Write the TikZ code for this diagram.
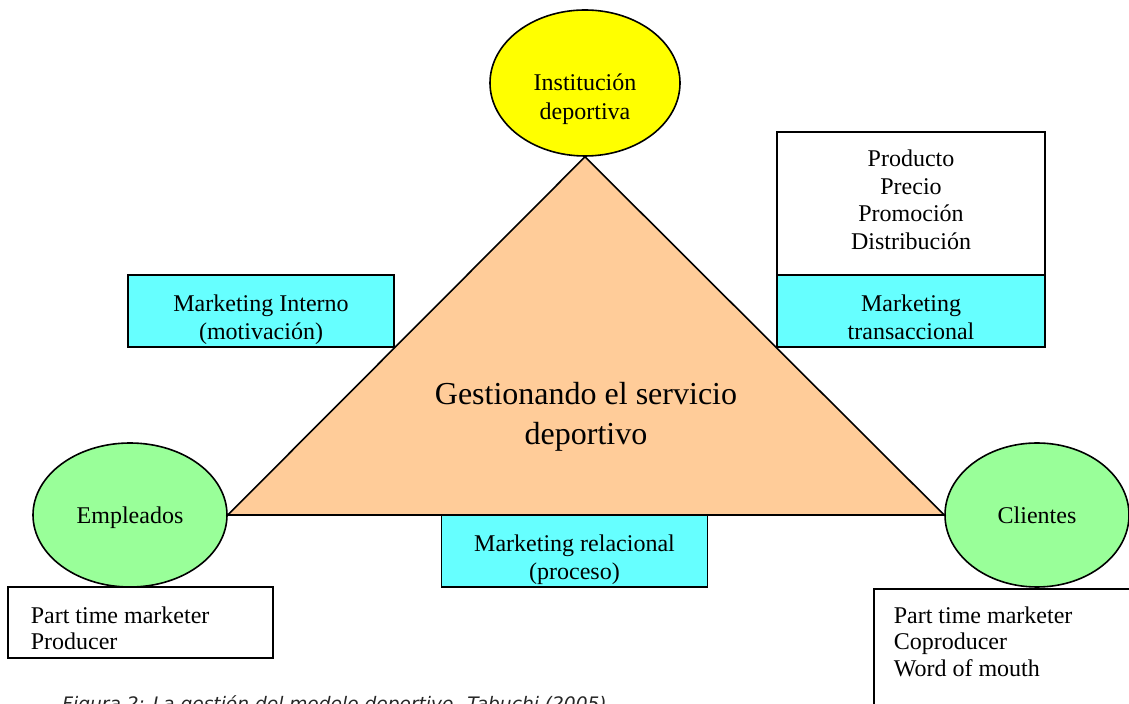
\documentclass[tikz,border=0pt]{standalone}
\usepackage{fontspec}
\setmainfont{Liberation Serif}
\newfontfamily\capfont{DejaVu Sans}
\usetikzlibrary{shapes.geometric}
\definecolor{instyellow}{HTML}{FFFF00}
\definecolor{actorgreen}{HTML}{99FF99}
\definecolor{triorange}{HTML}{FFCC99}
\definecolor{mkcyan}{HTML}{66FFFF}
\begin{document}
\begin{tikzpicture}[x=0.5pt,y=-0.5pt,
  thick,
  actor node/.style={ellipse,draw,align=center,inner sep=0pt,text depth=0pt,font=\fontsize{12}{14.5}\selectfont},
  mk node/.style={rectangle,draw,fill=mkcyan,minimum width=133pt,minimum height=36pt},
  list node/.style={rectangle,draw,fill=white},
  box text/.style={align=center,inner sep=0pt,font=\fontsize{12}{14}\selectfont},
  list text/.style={align=left,inner sep=0pt,anchor=north west,font=\fontsize{12}{13.25}\selectfont}]

  \useasboundingbox (0,0) rectangle (1129,704);

  \node[actor node,fill=instyellow,minimum width=95pt,minimum height=73pt] (inst) at (585,83) {};
  \node[box text,font=\fontsize{12}{14.5}\selectfont] (insttxt) at (585,99.5) {Institución\\deportiva};
  \node[actor node,fill=actorgreen,minimum width=97pt,minimum height=72pt] (emp) at (130,515) {Empleados};
  \node[actor node,fill=actorgreen,minimum width=92pt,minimum height=72pt] (cli) at (1037,515) {Clientes};

  \filldraw[fill=triorange] (inst.south) -- (emp.east) -- (cli.west) -- cycle;
  \node[align=center,font=\fontsize{16}{20}\selectfont] (gest) at (586,417) {Gestionando el servicio\\deportivo};

  \node[mk node] (interno) at (261,311) {};
  \node[box text] (internotxt) at (261,319.5) {Marketing Interno\\(motivación)};
  \node[mk node] (relac) at (574.5,551) {};
  \node[box text] (relactxt) at (574.5,559.5) {Marketing relacional\\(proceso)};
  \node[mk node,minimum width=134pt] (trans) at (911,311) {};
  \node[box text] (transtxt) at (911,317) {Marketing\\transaccional};
  \node[list node,minimum width=134pt,minimum height=71.5pt] (mix) at (911,203.5) {};
  \node[box text,font=\fontsize{12}{13.75}\selectfont] (mixtxt) at (911,200) {Producto\\Precio\\Promoción\\Distribución};

  \node[list node,minimum width=132.5pt,minimum height=35.5pt] (emplist) at (140.5,622.5) {};
  \node[list text] (emplisttxt) at (30,605.6) {Part time marketer\\Producer};
  \node[list node,anchor=north west,minimum width=134pt,minimum height=70pt] (clilist) at (873,588) {};
  \node[list text] (clilisttxt) at (893,605.6) {Part time marketer\\Coproducer\\Word of mouth};

  \node[anchor=base west,text=black!85,font=\capfont\itshape\fontsize{9.3}{11}\selectfont] (caption) at (55,711) {Figura 2: La gestión del modelo deportivo. Tabuchi (2005)};
\end{tikzpicture}
\end{document}
